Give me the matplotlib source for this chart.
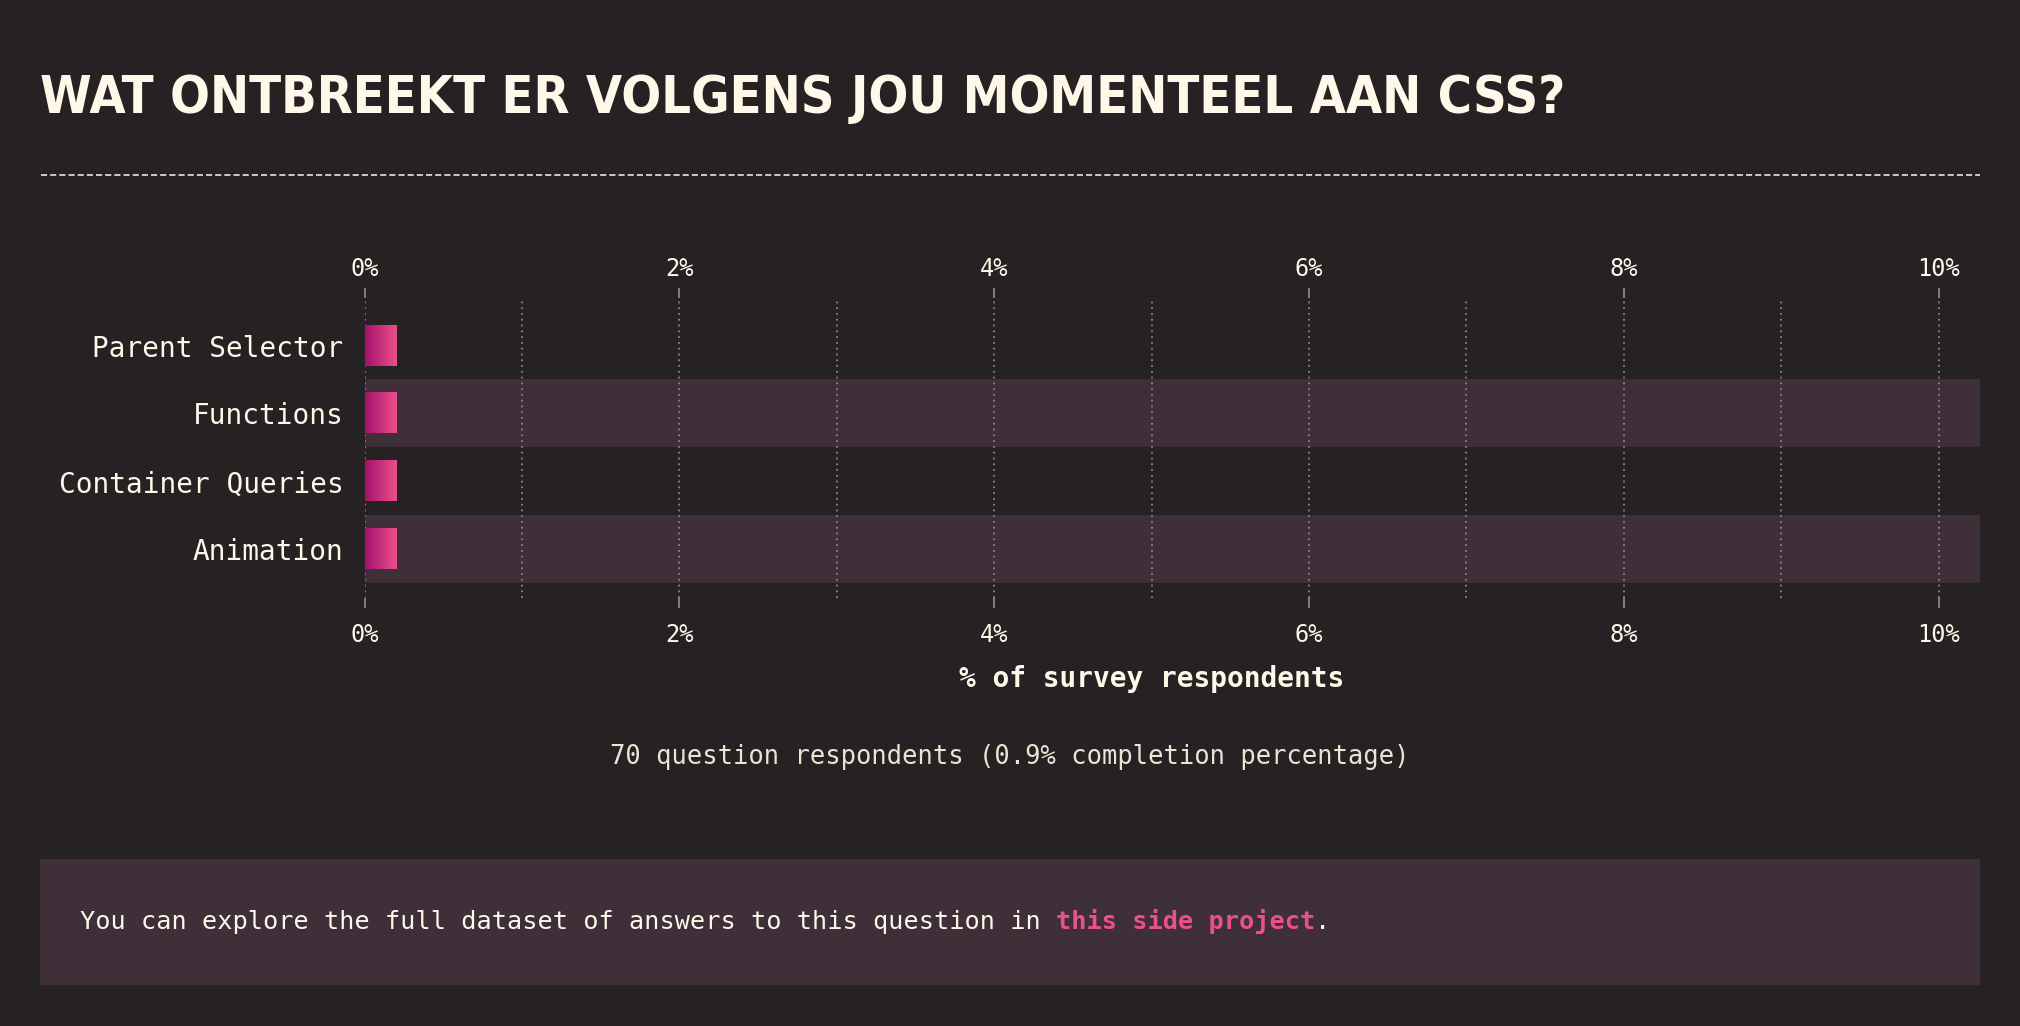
import matplotlib
matplotlib.use("Agg")
import matplotlib.pyplot as plt
import numpy as np
from matplotlib import font_manager, transforms
from matplotlib.colors import LinearSegmentedColormap
from matplotlib.lines import Line2D
from matplotlib.patches import Rectangle

# data
TITLE = "WAT ONTBREEKT ER VOLGENS JOU MOMENTEEL AAN CSS?"
categories = ["Parent Selector", "Functions", "Container Queries", "Animation"]
values = [0.2, 0.2, 0.2, 0.2]          # % of survey respondents
x_ticks = [0, 2, 4, 6, 8, 10]
x_tick_labels = ["0%", "2%", "4%", "6%", "8%", "10%"]
respondents = 70
completion = 0.9

BG = "#262224"
BAND = "#3e2f38"
CREAM = "#fff7e8"
DIM = "#eee3d2"
GRID = "#8b8587"
PINK = "#ec4f8f"
bar_cmap = LinearSegmentedColormap.from_list("bar", ["#a3126a", "#ee4f8d"])

W, H = 2020, 1026
MONO = "DejaVu Sans Mono"


def fx(x):
    return x / W


def fy(y):
    return 1 - y / H


# narrowest bold face we can find for the poster-style title
title_fp = font_manager.FontProperties(family="DejaVu Sans", weight="bold")
for f in font_manager.fontManager.ttflist:
    low = (f.name + " " + f.fname).lower()
    if ("narrow" in low or "condensed" in low) and f.weight in ("bold", 700, "heavy", 800, 900):
        title_fp = font_manager.FontProperties(fname=f.fname)
        break

fig = plt.figure(figsize=(W / 100, H / 100), dpi=100, facecolor=BG)
renderer = fig.canvas.get_renderer()

# title, sized to span the same width as the reference
title = fig.text(fx(40), fy(113), TITLE, fontproperties=title_fp,
                 color=CREAM, ha="left", va="baseline")
title.set_fontsize(60)
tw = title.get_window_extent(renderer).width
title.set_fontsize(60 * 1528 / tw)

fig.add_artist(Line2D([fx(41), fx(1980)], [fy(175), fy(175)], transform=fig.transFigure,
                      color=CREAM, lw=1.1, dashes=(4, 2)))

# main axes
ax = fig.add_axes([fx(364.5), fy(598), fx(1980) - fx(364.5), (598 - 298) / H])
ax.set_facecolor(BG)
y = np.arange(len(categories))
bar_h = 0.59
for i in y:
    if i % 2 == 1:
        ax.axhspan(i - 0.5, i + 0.5, color=BAND, zorder=0, lw=0)
grad = np.linspace(0, 1, 256).reshape(1, -1)
for i, v in zip(y, values):
    ax.imshow(grad, cmap=bar_cmap, aspect="auto", zorder=3,
              extent=[0, v, i + bar_h / 2, i - bar_h / 2], interpolation="bilinear")

ax.set_xlim(0, (1980 - 364.5) / 157.4)
ax.set_ylim(3.5 + 0.22, -0.5 - 0.2)
ax.set_xticks(x_ticks)
ax.set_xticklabels(x_tick_labels)
ax.set_xticks([1, 3, 5, 7, 9], minor=True)
ax.set_yticks(y)
ax.set_yticklabels(categories)
for s in ax.spines.values():
    s.set_visible(False)
ax.tick_params(axis="x", which="major", bottom=True, length=7.2, width=1.3,
               color=GRID, labelcolor=CREAM, labelsize=17, pad=10.5)
ax.tick_params(axis="x", which="minor", length=0)
ax.tick_params(axis="y", length=0, pad=15, labelcolor=CREAM, labelsize=20)

top = ax.secondary_xaxis("top")
top.set_xticks(x_ticks)
top.set_xticklabels(x_tick_labels)
top.tick_params(length=7.2, width=1.3, color=GRID, labelcolor=CREAM, labelsize=17, pad=5)
for s in top.spines.values():
    s.set_visible(False)

for lab in ax.get_xticklabels() + ax.get_yticklabels() + top.get_xticklabels():
    lab.set_family(MONO)
ax.set_axisbelow("line")
ax.grid(axis="x", which="both", color=GRID, lw=1.3, linestyle=(0, (1, 2.2)))
ax.grid(axis="y", visible=False)

ax.text(5, fy(679), "% of survey respondents",
        transform=transforms.blended_transform_factory(ax.transData, fig.transFigure),
        ha="center", va="center", fontsize=20, fontweight="bold", family=MONO, color=CREAM)

fig.text(0.5, fy(757), f"{respondents} question respondents ({completion}% completion percentage)",
         ha="center", va="center", fontsize=18.4, family=MONO, color=DIM)

# footer box
fig.add_artist(Rectangle((fx(40), fy(985)), fx(1980) - fx(40), (985 - 859) / H,
                         transform=fig.transFigure, color=BAND, lw=0))
FOOT = 18.2
t1 = fig.text(fx(80), fy(922), "You can explore the full dataset of answers to this question in ",
              ha="left", va="center", fontsize=FOOT, family=MONO, color=CREAM)
w1 = t1.get_window_extent(renderer).width
t2 = fig.text(fx(80), fy(922), "this side project",
              transform=transforms.offset_copy(fig.transFigure, fig=fig, x=w1, y=0, units="dots"),
              ha="left", va="center", fontsize=FOOT, family=MONO, color=PINK, fontweight="bold")
w2 = t2.get_window_extent(renderer).width
fig.text(fx(80), fy(922), ".",
         transform=transforms.offset_copy(fig.transFigure, fig=fig, x=w1 + w2, y=0, units="dots"),
         ha="left", va="center", fontsize=FOOT, family=MONO, color=CREAM)

fig.savefig("out.png", dpi=100, facecolor=BG)
